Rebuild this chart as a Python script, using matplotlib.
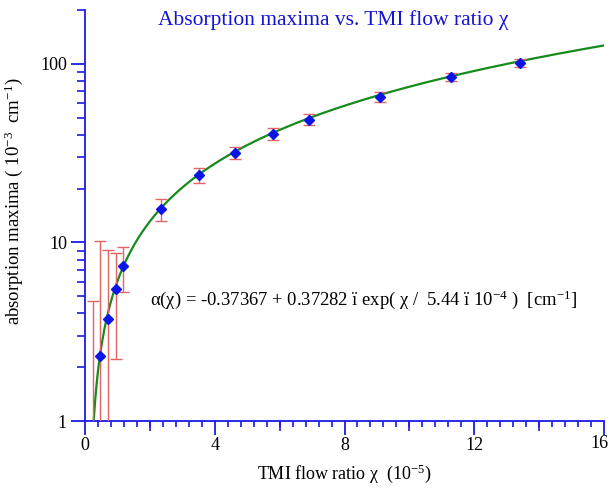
import numpy as np
import matplotlib
matplotlib.use("Agg")
import matplotlib.pyplot as plt
from matplotlib.ticker import MultipleLocator, LogLocator, NullFormatter, FixedLocator

plt.rcParams['font.family'] = ['Liberation Serif', 'DejaVu Serif']
plt.rcParams['mathtext.fontset'] = 'custom'
plt.rcParams['mathtext.rm'] = 'Liberation Serif'
plt.rcParams['mathtext.it'] = 'Liberation Serif:italic'

# measured points (chi in 1e-5, absorption in 1e-3 cm^-1)
chi = [0.26, 0.46, 0.72, 0.95, 1.18, 2.35, 3.52, 4.63, 5.80, 6.91, 9.10, 11.27, 13.40]
absorb = [0.9, 2.31, 3.71, 5.48, 7.37, 15.3, 23.7, 31.8, 40.6, 48.7, 65.4, 84.6, 101.0]
err = [3.8, 7.9, 5.3, 3.25, 2.1, 2.2, 2.3, 2.5, 3.0, 3.5, 4.0, 4.5, 5.5]

# fit coefficients shown on the chart
fit_a = -0.37367
fit_b = 0.37282
fit_c = 5.44e-4

x_ticks = [0, 4, 8, 12, 16]
x_labels = ['0', '4', '8', '12', '']

blue = '#1a1ae6'

fig = plt.figure(figsize=(6.11, 4.92), dpi=100)
ax = fig.add_axes([85 / 611, 71 / 492, 519 / 611, 411 / 492])

x_fit = np.linspace(0.2, 16, 400)
y_fit = 1000 * (fit_a + fit_b * np.exp(x_fit * 1e-5 / fit_c))
ax.plot(x_fit, y_fit, color='#168a1c', lw=1.6, zorder=2)

ax.errorbar(chi, absorb, yerr=err, fmt='none', ecolor='#e06464', elinewidth=1.0,
            capsize=4, capthick=1.0, zorder=3)
ax.plot(chi, absorb, 'D', color='#0a14e6', ms=5.5, zorder=4)

ax.set_yscale('log')
ax.set_xlim(0, 16)
ax.set_ylim(1, 200)

for s in ['top', 'right']:
    ax.spines[s].set_visible(False)
for s in ['left', 'bottom']:
    ax.spines[s].set_color(blue)
    ax.spines[s].set_linewidth(1.3)

ax.set_xticks(x_ticks, x_labels)
ax.xaxis.set_minor_locator(MultipleLocator(0.4))
ax.yaxis.set_minor_locator(LogLocator(base=10, subs=np.arange(2, 10)))
ax.yaxis.set_minor_formatter(NullFormatter())
ax.set_yticks([1, 10, 100], ['1', '10', '100'])

ax.tick_params(axis='both', which='major', direction='out', length=10, width=1.3,
               color=blue, labelsize=13, labelcolor='black')
ax.tick_params(axis='x', which='major', pad=1.5)
ax.tick_params(axis='y', which='major', pad=3)
ax.tick_params(axis='x', which='minor', direction='out', length=4, width=1.2, color=blue)
ax.tick_params(axis='y', which='minor', direction='out', length=6, width=1.2, color=blue)

# medium ticks at 2, 6, 10, 14
sec = ax.secondary_xaxis('bottom')
sec.xaxis.set_major_locator(FixedLocator([2, 6, 10, 14]))
sec.tick_params(direction='out', length=7, width=1.2, color=blue, labelbottom=False)
sec.spines['bottom'].set_visible(False)

# last x label nudged left so it stays on the canvas
ax.annotate('16', xy=(16, 0), xycoords=('data', 'axes fraction'), xytext=(-3.5, -9.8),
            textcoords='offset points', ha='center', va='top', fontsize=13)

ax.set_xlabel(r'TMI flow ratio χ  (10$^{-5}$)', fontsize=13, labelpad=6)
ax.set_ylabel(r'absorption maxima ( 10$^{-3}$  cm$^{-1}$)', fontsize=13.5)
ax.yaxis.set_label_coords(-0.115, 0.535)

fig.text(0.545, 0.96, 'Absorption maxima vs. TMI flow ratio χ', color='#1414d2',
         fontsize=15.5, ha='center', va='center')

fig.text(150 / 611, 1 - 300 / 492,
         r'α(χ) = -0.37367 + 0.37282 ï exp( χ /  5.44 ï 10$^{-4}$ )  [cm$^{-1}$]',
         fontsize=13.4, ha='left', va='center')

fig.savefig('out.png', dpi=100)
